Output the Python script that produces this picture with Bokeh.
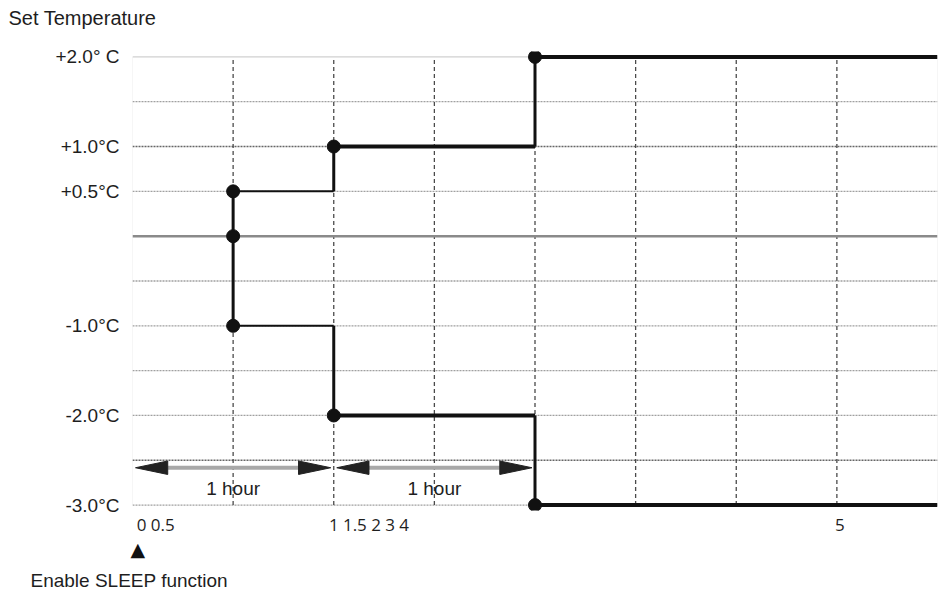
from bokeh.plotting import figure
from bokeh.models import Range1d, FixedTicker, Title
from bokeh.core.properties import value
from bokeh.embed import file_html
from bokeh.resources import INLINE

# ---- data ----
# time axis in grid units (one unit = half an hour), change points of the set temperature
change_x = [1, 2, 4, 8]
upper_temp = [0.5, 1.0, 2.0]      # set temperature offsets, cooling side
lower_temp = [-1.0, -2.0, -3.0]   # set temperature offsets, heating side
start_temp = 0.0

y_tick_values = [2.0, 1.0, 0.5, -1.0, -2.0, -3.0]
y_tick_labels = ["+2.0\u00b0 C", "+1.0\u00b0C", "+0.5\u00b0C", "-1.0\u00b0C", "-2.0\u00b0C", "-3.0\u00b0C"]

x_tick_labels = ["0", "0.5", "1", "1.5", "2", "3", "4", "5"]
x_tick_pos = [0.09, 0.30, 2.00, 2.21, 2.42, 2.56, 2.70, 7.03]

grid_x = [1, 2, 3, 4, 5, 6, 7]
grid_y_light = [1.5, 0.5, -0.5, -1.0, -1.5, -2.0, -3.0]
grid_y_dark = [1.0, -2.5]

hour_spans = [(0, 2), (2, 4)]
hour_label = "1 hour"

TXT = "#1e1e1e"
INK = "#111111"

p = figure(frame_width=805, frame_height=459,
           x_range=Range1d(0, 8), y_range=Range1d(-3.06, 2.06),
           output_backend="svg", toolbar_location=None,
           min_border_left=132, min_border_right=6,
           min_border_top=51, min_border_bottom=85)
p.outline_line_color = None
p.grid.visible = False
p.background_fill_color = "white"
p.border_fill_color = "white"

# title (y axis caption); the empty second line lifts it to the top of the figure
p.title.text = "Set Temperature\n\u00a0"
p.title.align = "left"
p.title.offset = -124
p.title.standoff = 1
p.title.text_font = "Liberation Sans"
p.title.text_font_size = "20px"
p.title.text_font_style = "normal"
p.title.text_color = TXT

# y axis
p.yaxis.ticker = FixedTicker(ticks=y_tick_values)
p.yaxis.major_label_overrides = {v: l for v, l in zip(y_tick_values, y_tick_labels)}
p.yaxis.axis_line_color = None
p.yaxis.major_tick_line_color = None
p.yaxis.minor_tick_line_color = None
p.yaxis.major_label_standoff = 7
p.yaxis.major_label_text_font = "Liberation Sans"
p.yaxis.major_label_text_font_size = "19px"
p.yaxis.major_label_text_color = TXT

# x axis
p.xaxis.ticker = FixedTicker(ticks=x_tick_pos)
p.xaxis.major_label_overrides = {v: l for v, l in zip(x_tick_pos, x_tick_labels)}
p.xaxis.axis_line_color = None
p.xaxis.major_tick_line_color = None
p.xaxis.minor_tick_line_color = None
p.xaxis.major_label_standoff = 2
p.xaxis.major_label_text_font = "Open Sans"
p.xaxis.major_label_text_font_size = "17px"
p.xaxis.major_label_text_color = TXT

# marker and caption below the axis
p.add_layout(Title(text="\u25b2", align="left", offset=-2, standoff=8, vertical_align="top",
                   text_font="DejaVu Sans", text_font_size="19px",
                   text_font_style="normal", text_color="#111111"), "below")
p.add_layout(Title(text="Enable SLEEP function", align="left", offset=-102, standoff=5,
                   text_font="Liberation Sans", text_font_size="19px",
                   text_font_style="normal", text_color=TXT), "below")

x_end = change_x[-1]
y_top = upper_temp[-1]
y_bot = lower_temp[-1]

# frame edges (faint)
p.segment(x0=[0, x_end], y0=[y_bot, y_bot], x1=[0, x_end], y1=[y_top, y_top],
          line_color="#eeeeee", line_width=1)
# horizontal dotted grid
p.segment(x0=[0] * len(grid_y_light), y0=grid_y_light, x1=[x_end] * len(grid_y_light), y1=grid_y_light,
          line_color="#a0a0a0", line_width=1.3, line_dash="2 1")
p.segment(x0=[0] * len(grid_y_dark), y0=grid_y_dark, x1=[x_end] * len(grid_y_dark), y1=grid_y_dark,
          line_color="#666666", line_width=1.5, line_dash="2 1")
# top line
p.segment(x0=[0], y0=[y_top], x1=[x_end], y1=[y_top], line_color="#d0d0d0", line_width=1.2)
# vertical dashed grid
p.segment(x0=grid_x, y0=[y_bot] * len(grid_x), x1=grid_x, y1=[y_top] * len(grid_x),
          line_color="#4a4a4a", line_width=1.3, line_dash="4 3")
# zero line
p.segment(x0=[0], y0=[start_temp], x1=[x_end], y1=[start_temp], line_color="#8a8a8a", line_width=2.5)

# hour arrows
inset = 0.03
head_len = 0.32
head_hw = 0.075
arrow_y = -2.583
for a, b in hour_spans:
    xa, xb = a + inset, b - inset
    p.segment(x0=[xa + head_len], y0=[arrow_y], x1=[xb - head_len], y1=[arrow_y],
              line_color="#a8a8a8", line_width=4)
    p.patch(x=[xa, xa + head_len, xa + head_len], y=[arrow_y, arrow_y + head_hw, arrow_y - head_hw],
            fill_color="#222222", line_color="#222222")
    p.patch(x=[xb, xb - head_len, xb - head_len], y=[arrow_y, arrow_y + head_hw, arrow_y - head_hw],
            fill_color="#222222", line_color="#222222")
    p.text(x=[(a + b) / 2], y=[-2.817], text=[hour_label], text_align="center", text_baseline="middle",
           text_font=value("Liberation Sans"), text_font_size="19px", text_color=TXT)

# temperature steps: horizontals
widths = [2, 4, 4]
for i in range(len(upper_temp)):
    p.segment(x0=[change_x[i]] * 2, y0=[upper_temp[i], lower_temp[i]],
              x1=[change_x[i + 1]] * 2, y1=[upper_temp[i], lower_temp[i]],
              line_color=INK, line_width=widths[i])
# verticals
p.segment(x0=[change_x[0]], y0=[upper_temp[0]], x1=[change_x[0]], y1=[lower_temp[0]],
          line_color=INK, line_width=3)
for i in range(1, len(upper_temp)):
    p.segment(x0=[change_x[i]] * 2, y0=[upper_temp[i - 1], lower_temp[i - 1]],
              x1=[change_x[i]] * 2, y1=[upper_temp[i], lower_temp[i]],
              line_color=INK, line_width=3)

# dots
dx = [change_x[0]] * 3 + [change_x[1]] * 2 + [change_x[2]] * 2
dy = [upper_temp[0], start_temp, lower_temp[0], upper_temp[1], lower_temp[1], upper_temp[2], lower_temp[2]]
p.scatter(x=dx, y=dy, size=13, fill_color=INK, line_color=INK)

open("out.html", "w").write(file_html(p, INLINE))
